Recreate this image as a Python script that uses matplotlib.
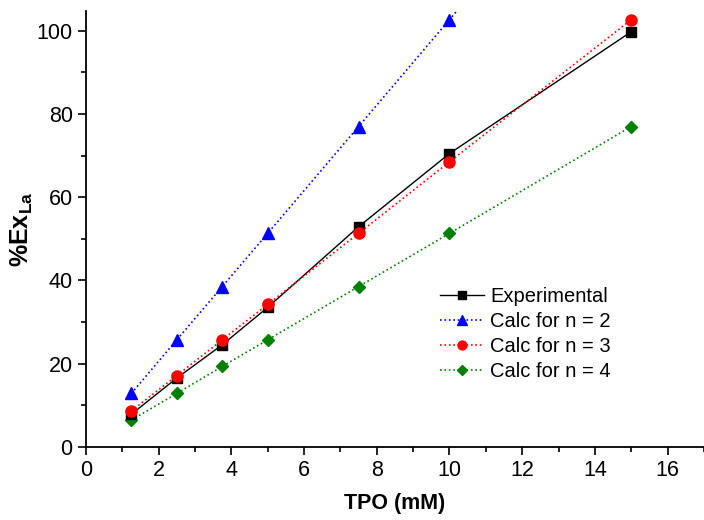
import matplotlib
matplotlib.use('Agg')
import matplotlib.pyplot as plt
from matplotlib.ticker import MultipleLocator

plt.rcParams['font.family'] = ['Liberation Sans', 'DejaVu Sans']
plt.rcParams['mathtext.fontset'] = 'custom'
plt.rcParams['mathtext.rm'] = 'Liberation Sans'
plt.rcParams['mathtext.bf'] = 'Liberation Sans:bold'

# TPO concentration (mM)
tpo = [1.25, 2.5, 3.75, 5, 7.5, 10, 15]
experimental = [7.8, 16.5, 24.5, 33.5, 52.9, 70.5, 99.8]
calc_n2 = [12.8, 25.7, 38.5, 51.3, 77.0, 102.7, 154.0]
calc_n3 = [8.6, 17.1, 25.7, 34.2, 51.3, 68.5, 102.7]
calc_n4 = [6.4, 12.8, 19.3, 25.7, 38.5, 51.3, 77.0]

fig = plt.figure(figsize=(7.04, 5.2), dpi=100)
ax = fig.add_axes([0.122, 0.141, 0.878, 0.838])

ax.plot(tpo, experimental, '-', color='black', lw=1.0, marker='s', ms=7, label='Experimental', zorder=5)
ax.plot(tpo, calc_n2, ':', color='blue', lw=1.2, marker='^', ms=8.5, label='Calc for n = 2')
ax.plot(tpo, calc_n3, ':', color='red', lw=1.2, marker='o', ms=8, label='Calc for n = 3', zorder=6)
ax.plot(tpo, calc_n4, ':', color='green', lw=1.2, marker='D', ms=6.5, label='Calc for n = 4')

ax.set_xlim(0, 17)
ax.set_ylim(0, 104.8)
ax.xaxis.set_major_locator(MultipleLocator(2))
ax.xaxis.set_minor_locator(MultipleLocator(1))
ax.yaxis.set_major_locator(MultipleLocator(20))
ax.yaxis.set_minor_locator(MultipleLocator(10))

for s in ['top', 'right']:
    ax.spines[s].set_visible(False)
for s in ['left', 'bottom']:
    ax.spines[s].set_linewidth(1.3)

ax.tick_params(which='major', direction='out', length=6, width=1.2, labelsize=15.5)
ax.tick_params(which='minor', direction='out', length=3.5, width=1.2)

ax.set_xlabel('TPO (mM)', fontsize=15.5, fontweight='bold', labelpad=9)
ax.set_ylabel(r'$\mathbf{\%Ex_{La}}$', fontsize=18, labelpad=1)

ax.legend(loc='upper left', bbox_to_anchor=(0.56, 0.385), frameon=False, fontsize=14.5,
          handlelength=2.2, handletextpad=0.3, labelspacing=0.3, borderaxespad=0,
          markerscale=0.8)

fig.savefig('out.png', dpi=100)
